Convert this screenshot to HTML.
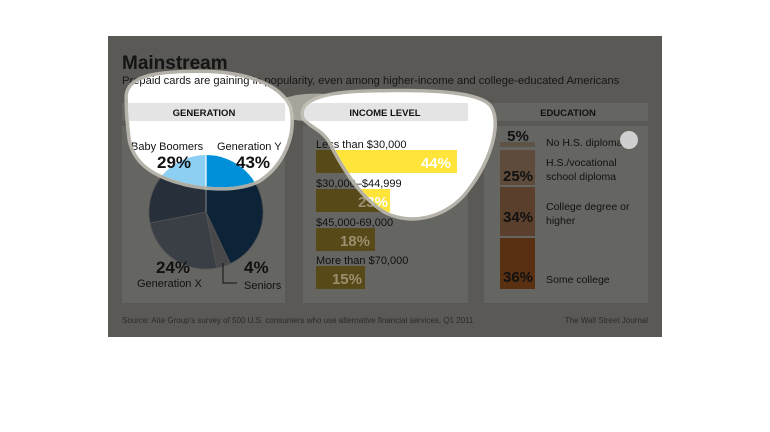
<!DOCTYPE html>
<html><head><meta charset="utf-8"><style>
html,body{margin:0;padding:0;background:#fff;width:770px;height:432px;overflow:hidden}
svg{display:block}
text{font-family:"Liberation Sans",sans-serif}
</style></head><body>
<svg width="770" height="432" viewBox="0 0 770 432" xmlns="http://www.w3.org/2000/svg">
<defs>
<clipPath id="spot">
<path id="sp" d="M128,100 C126,79 150,73 200,73 C245,73 280,86 289,108 C295,135 282,165 258,180 C235,191 200,188 175,180 C150,172 135,160 131,140 C129,125 128,110 128,100 Z M305,118 C300,105 315,95 360,93 C420,91 480,92 490,108 C500,125 488,165 462,195 C440,218 410,222 388,212 C365,200 345,170 330,140 C322,128 310,125 305,118 Z"/>
</clipPath>
</defs>
<rect x="108" y="36" width="554" height="301" fill="#5a5955"/>
<text x="122" y="69" font-family="Liberation Serif,serif" font-weight="bold" font-size="19" fill="#141414">Mainstream</text>
<text x="122" y="84" font-size="11.2" fill="#161616">Prepaid cards are gaining in popularity, even among higher-income and college-educated Americans</text>
<g fill="#656562">
<rect x="122" y="103" width="163" height="18"/><rect x="122" y="126" width="163" height="177"/>
<rect x="303" y="103" width="165" height="18"/><rect x="303" y="126" width="165" height="177"/>
<rect x="484" y="103" width="164" height="18"/><rect x="484" y="126" width="164" height="177"/>
</g>
<g font-size="9.5" font-weight="bold" fill="#111" text-anchor="middle">
<text x="204" y="116">GENERATION</text><text x="385" y="116">INCOME LEVEL</text><text x="568" y="116">EDUCATION</text>
</g>
<g stroke="#555" stroke-width="0.8">
<path d="M206,212 L206,155 A57,57 0 0 1 230.3,263.6 Z" fill="#0d2438"/>
<path d="M206,212 L230.3,263.6 A57,57 0 0 1 216.7,268 Z" fill="#48484a"/>
<path d="M206,212 L216.7,268 A57,57 0 0 1 150,223 Z" fill="#3a3f46"/>
<path d="M206,212 L150,223 A57,57 0 0 1 206,155 Z" fill="#27303a"/>
</g>
<line x1="206" y1="155" x2="206" y2="212" stroke="#888" stroke-width="1"/>
<g font-size="11" fill="#111">
<text x="131" y="150">Baby Boomers</text><text x="217" y="150">Generation Y</text>
<text x="137" y="287">Generation X</text><text x="244" y="289">Seniors</text>
</g>
<g font-size="17" font-weight="bold" fill="#111">
<text x="157" y="168">29%</text><text x="236" y="168">43%</text>
<text x="156" y="273">24%</text><text x="244" y="273">4%</text>
</g>
<polyline points="223,263 223,283 237,283" fill="none" stroke="#111" stroke-width="1"/>
<g font-size="11" fill="#111">
<text x="316" y="148">Less than $30,000</text><text x="316" y="187">$30,000–$44,999</text>
<text x="316" y="226">$45,000-69,000</text><text x="316" y="264">More than $70,000</text>
</g>
<g fill="#584918">
<rect x="316" y="150" width="141" height="23"/><rect x="316" y="189" width="74" height="23"/>
<rect x="316" y="228" width="59" height="23"/><rect x="316" y="266" width="49" height="23"/>
</g>
<g font-size="15" font-weight="bold" fill="#9a8f70" text-anchor="end">
<text x="451" y="168">44%</text><text x="388" y="207">23%</text><text x="370" y="246">18%</text><text x="362" y="284">15%</text>
</g>
<rect x="500" y="142" width="35" height="5" fill="#5d5347"/>
<rect x="500" y="150" width="35" height="35" fill="#5e4b3b"/>
<rect x="500" y="187" width="35" height="49" fill="#5a402c"/>
<rect x="500" y="238" width="35" height="51" fill="#5a3012"/>
<g font-size="15" font-weight="bold" fill="#111" text-anchor="middle">
<text x="518" y="141">5%</text><text x="518" y="181">25%</text><text x="518" y="222">34%</text><text x="518" y="282">36%</text>
</g>
<g font-size="10.5" fill="#111">
<text x="546" y="146">No H.S. diploma</text><text x="546" y="166">H.S./vocational</text><text x="546" y="180">school diploma</text>
<text x="546" y="210">College degree or</text><text x="546" y="224">higher</text><text x="546" y="283">Some college</text>
</g>
<text x="122" y="323" font-size="8" fill="#2a2a2a">Source: Aite Group's survey of 500 U.S. consumers who use alternative financial services, Q1 2011</text>
<text x="648" y="323" font-size="8" fill="#2a2a2a" text-anchor="end">The Wall Street Journal</text>
<path d="M280,100 C295,93 320,92 340,96 L340,120 C320,122 300,122 285,118 Z" fill="#b9b7ac" opacity="0.8"/>
<use href="#sp" fill="none" stroke="#c4c2b7" stroke-width="7" stroke-opacity="0.85"/>
<g clip-path="url(#spot)">
<rect x="100" y="60" width="420" height="180" fill="#fff"/>
<rect x="122" y="103" width="163" height="18" fill="#e4e4e4"/>
<rect x="303" y="103" width="165" height="18" fill="#e4e4e4"/>
<text x="122" y="84" font-size="11.2" fill="#161616">Prepaid cards are gaining in popularity, even among higher-income and college-educated Americans</text>
<g font-size="9.5" font-weight="bold" fill="#111" text-anchor="middle">
<text x="204" y="116">GENERATION</text><text x="385" y="116">INCOME LEVEL</text></g>
<path d="M206,212 L206,155 A57,57 0 0 1 230.3,263.6 Z" fill="#0090da"/>
<path d="M206,212 L150,223 A57,57 0 0 1 206,155 Z" fill="#8ccff3"/>
<line x1="206" y1="155" x2="206" y2="212" stroke="#fff" stroke-width="1.2"/>
<g font-size="11" fill="#111"><text x="131" y="150">Baby Boomers</text><text x="217" y="150">Generation Y</text>
<text x="316" y="148">Less than $30,000</text><text x="316" y="187">$30,000–$44,999</text></g>
<g font-size="17" font-weight="bold" fill="#111"><text x="157" y="168">29%</text><text x="236" y="168">43%</text></g>
<rect x="316" y="150" width="141" height="23" fill="#ffe53a"/>
<rect x="316" y="189" width="74" height="23" fill="#ffe53a"/>
<g font-size="15" font-weight="bold" fill="#fff" text-anchor="end"><text x="451" y="168">44%</text><text x="388" y="207">23%</text></g>
</g>
<circle cx="629" cy="140" r="9" fill="#cfcfcf"/>
</svg>
</body></html>
